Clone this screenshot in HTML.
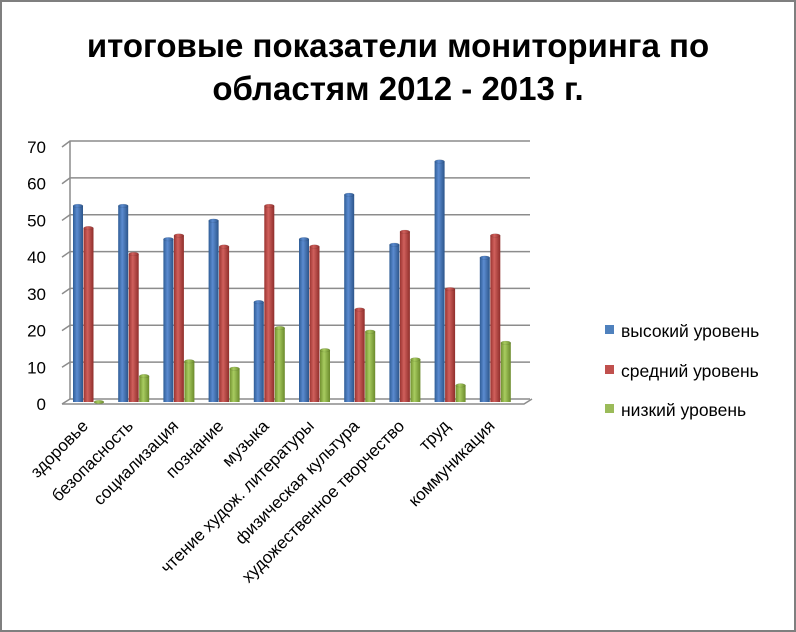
<!DOCTYPE html>
<html><head><meta charset="utf-8"><style>
html,body{margin:0;padding:0;background:#fff}
svg{display:block;font-family:"Liberation Sans","DejaVu Sans",sans-serif}
</style></head><body>
<svg id="chart" width="796" height="632" viewBox="0 0 796 632" xmlns="http://www.w3.org/2000/svg">
<defs>
<linearGradient id="gb" x1="0" x2="1"><stop offset="0" stop-color="#2f5d96"/><stop offset="0.4" stop-color="#5b8bd0"/><stop offset="1" stop-color="#2c558a"/></linearGradient>
<linearGradient id="gr" x1="0" x2="1"><stop offset="0" stop-color="#9a3330"/><stop offset="0.4" stop-color="#d0605c"/><stop offset="1" stop-color="#8f2e2b"/></linearGradient>
<linearGradient id="gg" x1="0" x2="1"><stop offset="0" stop-color="#71902f"/><stop offset="0.4" stop-color="#a8cc60"/><stop offset="1" stop-color="#6b8a2c"/></linearGradient>
</defs>
<rect x="1" y="1" width="794" height="630" fill="#fff" stroke="#7f7f7f" stroke-width="2"/>
<text x="398" y="57" text-anchor="middle" font-size="33" font-weight="bold" fill="#000">итоговые показатели мониторинга по</text>
<text x="398" y="100" text-anchor="middle" font-size="33" font-weight="bold" fill="#000">областям 2012 - 2013 г.</text>
<g id="grid"></g>
<g id="bars"></g>
<g id="labels"></g>
<g>
<rect x="605" y="325" width="9" height="9" fill="#4f81bd"/><text x="621" y="337" font-size="17.5">высокий уровень</text>
<rect x="605" y="365" width="9" height="9" fill="#c0504d"/><text x="621" y="377" font-size="17.5">средний уровень</text>
<rect x="605" y="404" width="9" height="9" fill="#9bbb59"/><text x="621" y="416" font-size="17.5">низкий уровень</text>
</g>
</svg>
<script>
const categories = ["здоровье","безопасность","социализация","познание","музыка","чтение худож. литературы","физическая культура","художественное творчество","труд","коммуникация"];
const highValues = [53,53,44,49,27,44,56,42.5,65,39];
const midValues = [47,40,45,42,53,42,25,46,30.5,45];
const lowValues = [0,7,11,9,20,14,19,11.5,4.5,16];
const yTicks = [0,10,20,30,40,50,60,70];

const NS="http://www.w3.org/2000/svg";
function mk(tag,attrs,parent){const e=document.createElementNS(NS,tag);for(const k in attrs)e.setAttribute(k,attrs[k]);parent.appendChild(e);return e;}
const yBack=v=>399-v*(399-141)/70;
const yFront=v=>404-v*(404-147)/70;
const yBar=v=>402-v*(402-143)/70;
const xGroup=i=>88+i*45.2;

const grid=document.getElementById('grid');
yTicks.forEach(t=>{
  const l=mk('polyline',{points:`62,${yFront(t)} 70,${yBack(t)} 530,${yBack(t)}`,fill:'none',stroke:'#8c8c8c','stroke-width':1.5},grid);
  
  
  const tx=mk('text',{x:46,y:yFront(t)+6,'text-anchor':'end','font-size':17,fill:'#000'},grid);
  tx.textContent=t;
  
  
});
const wall=mk('line',{x1:70,y1:yBack(0),x2:70,y2:yBack(70),stroke:'#8c8c8c','stroke-width':1.5},grid);


const floor=mk('polyline',{points:`62,${yFront(0)} 524,${yFront(0)} 532,${yBack(0)}`,fill:'none',stroke:'#8c8c8c','stroke-width':1.5},grid);



const bars=document.getElementById('bars');
const series=[[highValues,'gb','high'],[midValues,'gr','mid'],[lowValues,'gg','low']];
categories.forEach((c,i)=>{
  series.forEach(([vals,g,n],s)=>{
    const v=vals[i];const x=xGroup(i)-15+s*10.5;const top=yBar(v);const h=Math.max(402-top,0.5);
    const r=mk('rect',{x:x,y:top,width:10,height:h,fill:`url(#${g})`},bars);
    
    
    const cap=mk('ellipse',{cx:x+5,cy:top,rx:5,ry:1.8,fill:`url(#${g})`,stroke:'rgba(0,0,0,0.15)','stroke-width':0.5},bars);
    
    
  });
  const lab=mk('text',{x:xGroup(i)+1,y:427,'text-anchor':'end','font-size':17,fill:'#000',transform:`rotate(-45 ${xGroup(i)+1} 427)`},document.getElementById('labels'));
  lab.textContent=c;
  
  
});
</script>
</body></html>
